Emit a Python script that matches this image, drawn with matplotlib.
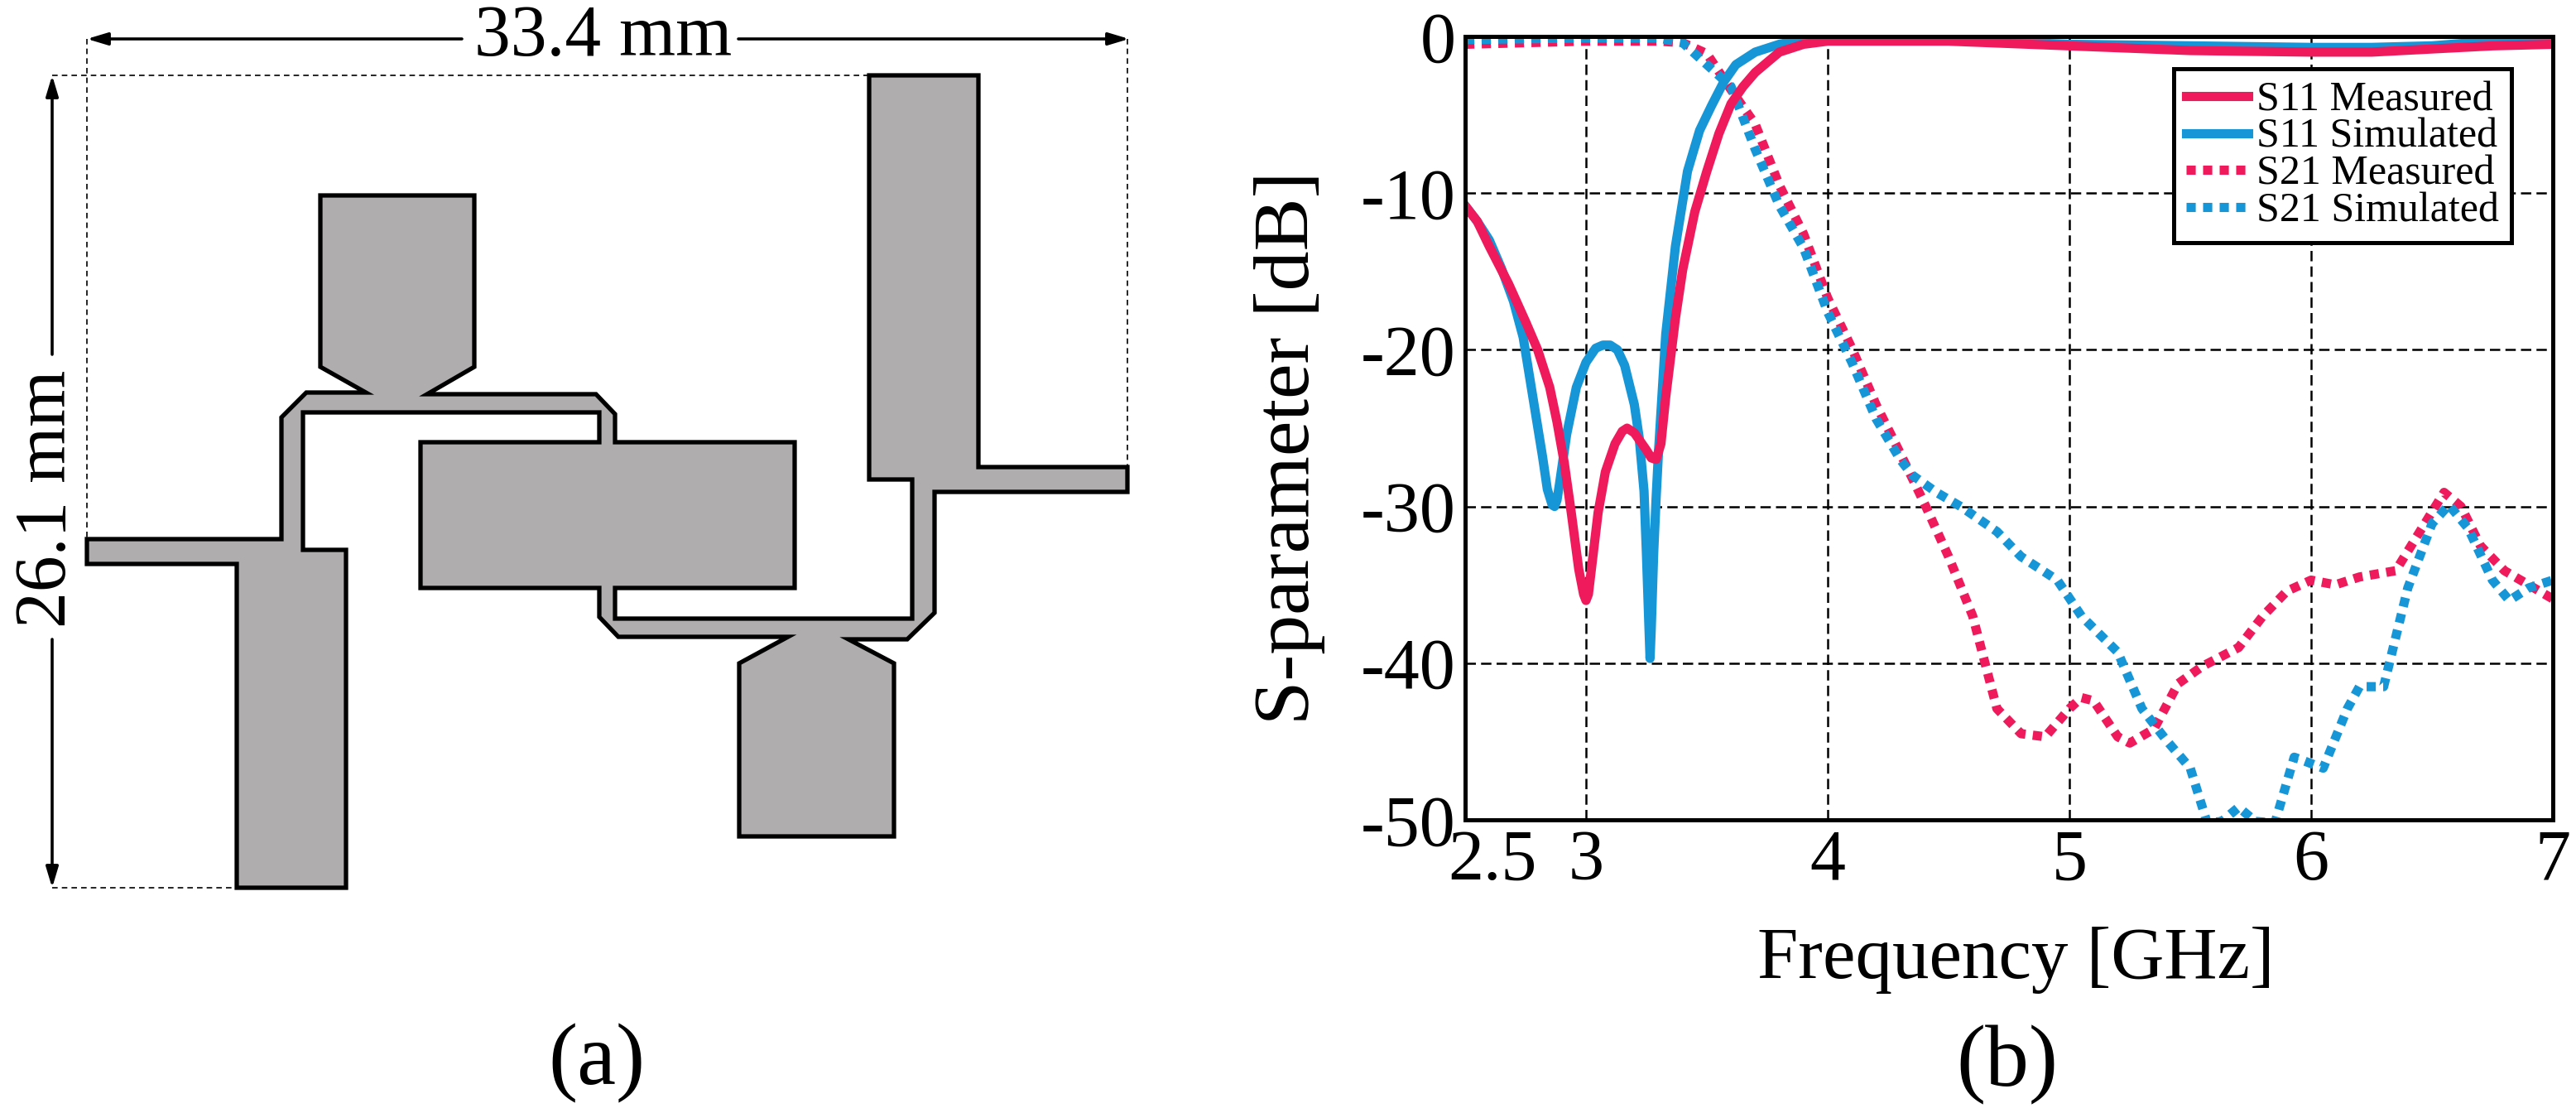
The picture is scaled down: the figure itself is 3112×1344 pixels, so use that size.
#!/usr/bin/env python3
"""Filter layout (a) and measured / simulated S-parameters (b)."""
import matplotlib
matplotlib.use("Agg")
import matplotlib.pyplot as plt
from matplotlib.patches import Polygon
from matplotlib.transforms import ScaledTranslation

W, H = 3112, 1344
PINK = "#ef1a5c"
BLUE = "#1696d6"
SERIF = ["Liberation Serif", "DejaVu Serif"]
AX_L, AX_T, AX_R, AX_B = 1770, 44, 3084, 990

# S-parameter curves, frequency in GHz and level in dB
s11_meas_f = [2.5, 2.55, 2.6, 2.68, 2.75, 2.8, 2.85, 2.88, 2.91, 2.94, 2.97, 2.99, 3.0, 3.01, 3.03, 3.05, 3.08, 3.12,
              3.15, 3.17, 3.2, 3.25, 3.27, 3.29, 3.31, 3.33, 3.37, 3.4, 3.45, 3.5, 3.55, 3.6, 3.65, 3.7, 3.8, 3.9, 4.0,
              4.5, 5.0, 5.5, 6.0, 6.25, 6.5, 6.75, 7.0]
s11_meas_db = [-10.8, -11.8, -13.4, -15.8, -18.2, -20.0, -22.4, -24.6, -27.2, -30.5, -34.0, -35.6, -36.0, -35.6, -33.0,
               -30.4, -27.8, -26.0, -25.2, -25.0, -25.3, -26.4, -26.9, -27.0, -26.0, -23.0, -18.0, -14.9, -11.2, -8.6,
               -6.2, -4.3, -3.2, -2.3, -1.0, -0.5, -0.3, -0.3, -0.6, -0.9, -1.0, -1.0, -0.8, -0.6, -0.5]
s11_sim_f = [2.5, 2.55, 2.6, 2.65, 2.7, 2.74, 2.78, 2.82, 2.84, 2.86, 2.87, 2.88, 2.89, 2.92, 2.96, 3.0, 3.04, 3.07, 3.1,
             3.13, 3.16, 3.2, 3.22, 3.24, 3.25, 3.26, 3.265, 3.27, 3.28, 3.29, 3.3, 3.33, 3.37, 3.42, 3.47, 3.52, 3.57,
             3.62, 3.7, 3.8, 3.9, 4.0, 4.5, 5.0, 5.5, 6.0, 6.25, 6.5, 6.75, 7.0]
s11_sim_db = [-10.8, -11.8, -13.0, -14.8, -16.9, -19.2, -23.0, -26.8, -28.9, -29.9, -30.0, -29.6, -28.6, -25.4, -22.4,
              -20.8, -19.9, -19.7, -19.7, -20.0, -21.0, -23.5, -25.6, -29.0, -33.0, -37.5, -39.7, -37.8, -33.0, -29.5,
              -26.5, -19.0, -13.4, -8.6, -6.0, -4.4, -2.9, -1.8, -1.0, -0.5, -0.2, -0.1, -0.2, -0.5, -0.6, -0.7, -0.7,
              -0.6, -0.3, -0.2]
s21_meas_f = [2.5, 2.75, 3.0, 3.3, 3.4, 3.5, 3.6, 3.7, 3.8, 3.9, 4.0, 4.1, 4.2, 4.3, 4.4, 4.5, 4.6, 4.7, 4.8, 4.9, 5.0,
              5.05, 5.1, 5.2, 5.25, 5.35, 5.45, 5.55, 5.7, 5.8, 5.9, 6.0, 6.1, 6.2, 6.35, 6.45, 6.55, 6.62, 6.7, 6.8,
              6.9, 7.0]
s21_meas_db = [-0.5, -0.4, -0.3, -0.3, -0.4, -1.1, -3.4, -5.6, -9.5, -12.6, -16.7, -19.9, -23.5, -26.6, -29.8, -33.2,
               -37.0, -42.9, -44.5, -44.7, -42.9, -42.2, -42.4, -44.7, -45.1, -44.2, -41.3, -40.2, -39.0, -37.0, -35.4,
               -34.7, -35.0, -34.5, -34.1, -31.6, -29.1, -30.0, -32.5, -34.1, -35.0, -35.9]
s21_sim_f = [2.5, 3.0, 3.3, 3.4, 3.5, 3.6, 3.7, 3.8, 3.9, 4.0, 4.1, 4.2, 4.3, 4.35, 4.45, 4.55, 4.7, 4.8, 4.95, 5.05,
             5.2, 5.3, 5.4, 5.5, 5.57, 5.63, 5.7, 5.77, 5.85, 5.93, 6.05, 6.15, 6.2, 6.3, 6.4, 6.5, 6.57, 6.65, 6.75,
             6.82, 6.9, 7.0]
s21_sim_db = [-0.2, -0.1, -0.1, -0.4, -1.8, -3.2, -7.2, -10.8, -13.5, -17.6, -20.8, -24.4, -27.0, -28.0, -29.1, -30.0,
              -31.6, -33.2, -34.7, -37.0, -39.3, -42.9, -44.9, -46.7, -50.2, -50.1, -49.2, -50.1, -50.2, -46.0, -46.7,
              -42.9, -41.5, -41.5, -35.2, -31.1, -29.9, -31.4, -34.7, -36.0, -35.2, -34.7]
x_ticks = [2.5, 3, 4, 5, 6, 7]
x_tick_labels = ["2.5", "3", "4", "5", "6", "7"]
y_ticks = [0, -10, -20, -30, -40, -50]
y_tick_labels = ["0", "-10", "-20", "-30", "-40", "-50"]
legend_labels = ["S11 Measured", "S11 Simulated", "S21 Measured", "S21 Simulated"]

# microstrip outline, pixels of the figure
layout_x = [105, 340, 340, 370, 442, 387, 387, 573, 573, 516, 720, 743, 743, 960, 960, 743, 743, 1102,
            1102, 1050, 1050, 1182, 1182, 1362, 1362, 1129, 1129, 1096, 1025, 1080, 1080, 893, 893, 952, 747, 724, 724,
            508, 508, 724, 724, 366, 366, 418, 418, 286, 286, 105]
layout_y = [651, 651, 504, 474, 474, 443, 236, 236, 443, 476, 476, 500, 534, 534, 710, 710, 747, 747,
            579, 579, 91, 91, 564, 564, 594, 594, 740, 772, 772, 801, 1010, 1010, 801, 769, 769, 745, 710,
            710, 534, 534, 498, 498, 664, 664, 1072, 1072, 681, 681]


def px_axes(fig, left, top, right, bottom):
    return fig.add_axes([left / W, 1 - bottom / H, (right - left) / W, (bottom - top) / H])


def draw_layout(bg):
    bg.add_patch(Polygon(list(zip(layout_x, layout_y)), closed=True, fc="#afadae", ec="black", lw=3.8, joinstyle="miter"))
    dash = dict(color="black", lw=1.2, ls=(0, (4, 3)))
    bg.plot([105, 105], [47, 651], **dash)
    bg.plot([63, 1050], [91, 91], **dash)
    bg.plot([1362, 1362], [47, 564], **dash)
    bg.plot([63, 286], [1072, 1072], **dash)
    arrow = dict(arrowstyle="-|>,head_length=1.5,head_width=0.45", color="black", lw=2.6, shrinkA=0, shrinkB=0)
    bg.annotate("", xy=(105, 47), xytext=(558, 47), arrowprops=arrow)
    bg.annotate("", xy=(1364, 47), xytext=(892, 47), arrowprops=arrow)
    bg.annotate("", xy=(63, 91), xytext=(63, 428), arrowprops=arrow)
    bg.annotate("", xy=(63, 1072), xytext=(63, 772), arrowprops=arrow)
    bg.text(729, 46, "33.4 mm", ha="center", va="center", fontsize=63, family=SERIF)
    bg.text(58, 602, "26.1 mm", ha="center", va="center", rotation=90, fontsize=63, family=SERIF)
    bg.text(721, 1284, "(a)", ha="center", va="center", fontsize=76, family=SERIF)
    bg.text(2425, 1286, "(b)", ha="center", va="center", fontsize=76, family=SERIF)


def draw_sparams(ax):
    dotted = (0, (1, 0.8))
    ax.plot(s21_meas_f, s21_meas_db, color=PINK, lw=8, ls=dotted, dash_capstyle="butt", label=legend_labels[2])
    ax.plot(s21_sim_f, s21_sim_db, color=BLUE, lw=8, ls=dotted, dash_capstyle="butt", label=legend_labels[3])
    ax.plot(s11_sim_f, s11_sim_db, color=BLUE, lw=8, label=legend_labels[1])
    ax.plot(s11_meas_f, s11_meas_db, color=PINK, lw=8, label=legend_labels[0])
    ax.set_xlim(2.5, 7)
    ax.set_ylim(-50, 0)
    ax.set_xticks(x_ticks, x_tick_labels, family=SERIF, fontsize=62)
    ax.set_yticks(y_ticks, y_tick_labels, family=SERIF, fontsize=62)
    ax.tick_params(length=0, pad=8)
    ax.grid(color="black", lw=1.8, ls=(0, (5, 2.5)))
    ax.set_axisbelow(True)
    for sp in ax.spines.values():
        sp.set_linewidth(3.6)
    # the 2.5 label sits to the right of its tick
    lab = ax.get_xticklabels()[0]
    lab.set_transform(lab.get_transform() + ScaledTranslation(0.33, 0, ax.figure.dpi_scale_trans))
    ax.set_xlabel("Frequency [GHz]", fontsize=64, family=SERIF)
    ax.set_ylabel("S-parameter [dB]", fontsize=69, family=SERIF)
    ax.yaxis.set_label_coords((1558 - AX_L) / (AX_R - AX_L), 0.475)
    ax.xaxis.set_label_coords(0.506, -(1160 - AX_B) / (AX_B - AX_T))
    ax.xaxis.label.set_va("center")
    ax.yaxis.label.set_va("center")
    handles, labels = ax.get_legend_handles_labels()
    order = [labels.index(t) for t in legend_labels]
    leg = ax.legend([handles[i] for i in order], legend_labels, loc="upper left",
                    bbox_to_anchor=((2626 - AX_L) / (AX_R - AX_L), 1 - (83 - AX_T) / (AX_B - AX_T)), fancybox=False,
                    framealpha=1, edgecolor="black", prop={"family": SERIF, "size": 36}, handlelength=1.5,
                    handletextpad=0.2, labelspacing=-0.04, borderpad=0.3, borderaxespad=0)
    leg.get_frame().set_linewidth(3.6)


def main():
    fig = plt.figure(figsize=(W / 100, H / 100), dpi=100)
    bg = fig.add_axes([0, 0, 1, 1])
    bg.set_xlim(0, W)
    bg.set_ylim(H, 0)
    bg.axis("off")
    draw_layout(bg)
    ax = px_axes(fig, AX_L, AX_T, AX_R, AX_B)
    draw_sparams(ax)
    fig.savefig("out.png", dpi=100)


if __name__ == "__main__":
    main()
